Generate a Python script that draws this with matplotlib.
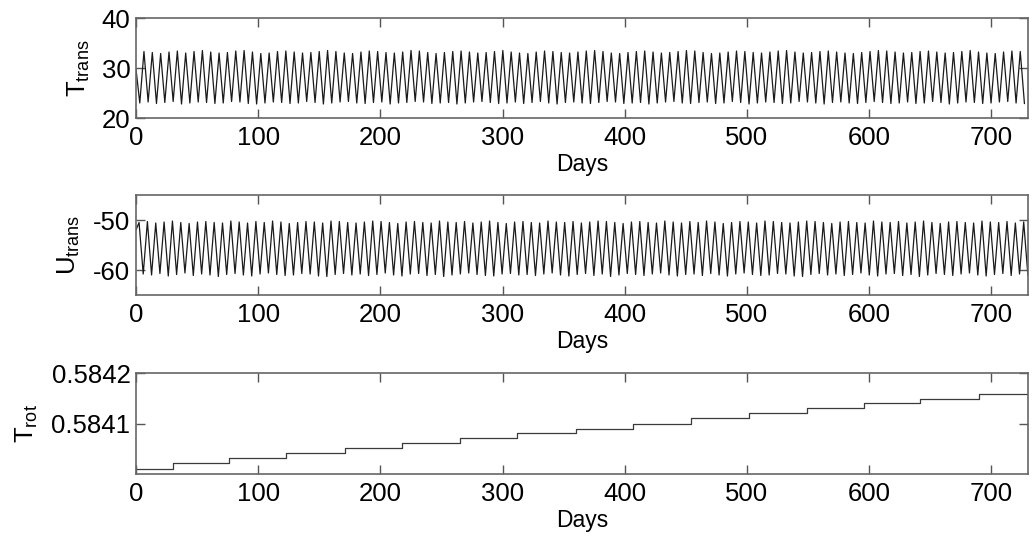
import numpy as np
import matplotlib
matplotlib.use("Agg")
import matplotlib.pyplot as plt

plt.rcParams["font.family"] = ["Liberation Sans", "DejaVu Sans"]
plt.rcParams["mathtext.fontset"] = "custom"
plt.rcParams["mathtext.rm"] = "Liberation Sans"
plt.rcParams["axes.unicode_minus"] = False

# ---- data ----
days_max = 730
period_days = 6.83  # one full oscillation, read from the peak spacing

# T_trans: start value, then alternating trough / peak values
t_start = 29.8
t_first_trough_day = 3.1
t_troughs = [
    23.0, 23.2, 22.9, 23.1, 23.3, 22.8, 23.0, 23.2, 23.1, 22.9, 23.0, 23.3,
    23.2, 22.9, 22.8, 23.0, 23.2, 23.1, 22.9, 23.0, 23.3, 23.1, 22.8, 23.0,
    23.2, 23.3, 23.0, 22.9, 23.1, 23.2, 22.8, 23.0, 23.1, 23.3, 23.2, 22.9,
    23.0, 23.1, 22.8, 23.0, 23.2, 23.3, 23.1, 22.9, 23.0, 23.2, 22.9, 23.1,
    23.3, 23.0, 22.8, 23.1, 23.2, 23.0, 22.9, 23.1, 23.3, 23.2, 22.9, 23.0,
    23.1, 22.8, 23.0, 23.2, 23.3, 23.0, 22.9, 23.1, 23.2, 22.9, 23.0, 23.3,
    23.1, 22.8, 23.0, 23.2, 23.1, 22.9, 23.0, 23.3, 23.2, 23.0, 22.8, 23.1,
    23.2, 23.0, 22.9, 23.1, 23.3, 23.1, 22.9, 23.0, 23.2, 22.9, 23.0, 23.3,
    23.1, 22.8, 23.0, 23.2, 23.1, 22.9, 23.0, 23.2, 23.3, 23.0, 22.9,
]
t_peaks = [
    33.3, 33.1, 32.9, 33.2, 33.4, 33.0, 33.3, 33.5, 33.2, 33.0, 33.1, 33.4,
    33.5, 33.2, 32.9, 33.0, 33.3, 33.4, 33.2, 33.0, 33.1, 33.3, 33.5, 33.3,
    33.0, 32.9, 33.2, 33.4, 33.3, 33.1, 33.0, 33.2, 33.5, 33.4, 33.1, 32.9,
    33.1, 33.3, 33.4, 33.2, 33.0, 33.1, 33.3, 33.5, 33.2, 33.0, 32.9, 33.2,
    33.4, 33.3, 33.1, 33.0, 33.2, 33.4, 33.5, 33.3, 33.0, 32.9, 33.1, 33.3,
    33.4, 33.2, 33.0, 33.1, 33.3, 33.5, 33.4, 33.1, 32.9, 33.0, 33.2, 33.4,
    33.3, 33.1, 33.0, 33.2, 33.4, 33.5, 33.2, 33.0, 33.1, 33.3, 33.4, 33.2,
    33.0, 32.9, 33.1, 33.3, 33.5, 33.4, 33.2, 33.0, 33.1, 33.3, 33.4, 33.2,
    33.0, 33.1, 33.3, 33.5, 33.2, 33.0, 32.9, 33.2, 33.4, 33.3,
]

# U_trans: start value, then alternating peak / trough values
u_start = -52.0
u_first_peak_day = 2.5
u_peaks = [
    -50.5, -50.3, -50.6, -50.4, -50.2, -50.5, -50.7, -50.4, -50.3, -50.5, -50.6, -50.2,
    -50.4, -50.6, -50.3, -50.5, -50.2, -50.4, -50.7, -50.5, -50.3, -50.4, -50.6, -50.2,
    -50.3, -50.5, -50.6, -50.4, -50.2, -50.3, -50.5, -50.7, -50.4, -50.3, -50.5, -50.6,
    -50.2, -50.4, -50.5, -50.3, -50.6, -50.4, -50.2, -50.5, -50.7, -50.4, -50.3, -50.5,
    -50.6, -50.2, -50.4, -50.5, -50.3, -50.6, -50.4, -50.2, -50.3, -50.5, -50.7, -50.4,
    -50.3, -50.5, -50.6, -50.2, -50.4, -50.6, -50.3, -50.5, -50.2, -50.4, -50.7, -50.5,
    -50.3, -50.4, -50.6, -50.2, -50.3, -50.5, -50.6, -50.4, -50.2, -50.3, -50.5, -50.7,
    -50.4, -50.3, -50.5, -50.6, -50.2, -50.4, -50.5, -50.3, -50.6, -50.4, -50.2, -50.5,
    -50.7, -50.4, -50.3, -50.5, -50.6, -50.2, -50.4, -50.5, -50.3, -50.6, -50.4,
]
u_troughs = [
    -60.8, -61.0, -60.7, -61.2, -60.9, -60.6, -61.1, -60.8, -61.0, -61.3, -60.9, -60.7,
    -61.0, -61.2, -60.8, -60.6, -60.9, -61.1, -61.0, -60.7, -60.8, -61.2, -61.3, -60.9,
    -60.7, -61.0, -60.8, -61.1, -60.9, -60.6, -61.0, -61.2, -60.8, -60.7, -61.1, -60.9,
    -61.3, -61.0, -60.8, -60.6, -60.9, -61.1, -61.2, -60.8, -60.7, -61.0, -60.9, -61.1,
    -60.8, -60.6, -61.0, -61.2, -60.9, -60.7, -61.1, -60.8, -61.3, -61.0, -60.7, -60.9,
    -61.1, -60.8, -60.6, -61.0, -61.2, -60.9, -60.8, -61.1, -60.7, -61.0, -61.2, -60.8,
    -60.6, -60.9, -61.1, -61.0, -60.7, -60.8, -61.2, -61.3, -60.9, -60.7, -61.0, -60.8,
    -61.1, -60.9, -60.6, -61.0, -61.2, -60.8, -60.7, -61.1, -60.9, -61.3, -61.0, -60.7,
    -60.9, -61.1, -60.8, -60.6, -61.0, -61.2, -60.9, -60.7, -61.1, -60.8, -61.0,
]

# T_rot: step changes (day of step) and level held after each step
rot_step_days = [0, 30, 76, 123, 171, 218, 265, 312, 360, 407, 454, 502, 549, 596, 642, 690, 730]
rot_levels = [
    0.584010, 0.584021, 0.584031, 0.584042, 0.584052, 0.584062, 0.584071, 0.584081,
    0.584090, 0.584100, 0.584110, 0.584120, 0.584130, 0.584140, 0.584149, 0.584159,
    0.584159,
]


def alternate(first, second):
    out = []
    for i in range(len(first)):
        out.append(first[i])
        if i < len(second):
            out.append(second[i])
    return out


t_ext = alternate(t_troughs, t_peaks)
t_days = np.concatenate([[0], t_first_trough_day + period_days / 2 * np.arange(len(t_ext))])
t_vals = np.concatenate([[t_start], t_ext])

u_ext = alternate(u_peaks, u_troughs)
u_days = np.concatenate([[0], u_first_peak_day + period_days / 2 * np.arange(len(u_ext))])
u_vals = np.concatenate([[u_start], u_ext])

W, H = 1032, 540
fig = plt.figure(figsize=(W / 100, H / 100), dpi=100)

left = 136 / W
width = (1028 - 136) / W
ax1 = fig.add_axes([left, 1 - 118 / H, width, 100 / H])
ax2 = fig.add_axes([left, 1 - 295 / H, width, 100 / H])
ax3 = fig.add_axes([left, 1 - 474 / H, width, 101 / H])

line_col = "#1a1a1a"
ax1.plot(t_days, t_vals, color=line_col, lw=0.9)
ax2.plot(u_days, u_vals, color=line_col, lw=0.9)
ax3.plot(rot_step_days, rot_levels, color="#3a3a3a", lw=0.9, drawstyle="steps-post")

ax1.set_ylim(20, 40)
ax1.set_yticks([20, 30, 40], ["20", "30", "40"])
ax1.set_ylabel(r"$\mathregular{T_{trans}}$", fontsize=18.5, labelpad=7)

ax2.set_ylim(-65, -45)
ax2.set_yticks([-60, -50], ["-60", "-50"])
ax2.set_ylabel(r"$\mathregular{U_{trans}}$", fontsize=18.5, labelpad=8)

ax3.set_ylim(0.5840, 0.5842)
ax3.set_yticks([0.5841, 0.5842], ["0.5841", "0.5842"])
ax3.set_ylabel(r"$\mathregular{T_{rot}}$", fontsize=18.5, labelpad=8)

for ax in (ax1, ax2, ax3):
    ax.set_xlim(0, days_max)
    ax.set_xticks(range(0, 701, 100))
    ax.set_xlabel("Days", fontsize=16.5, labelpad=2)
    ax.tick_params(direction="in", top=True, right=True, length=6.5, width=1,
                   color="#555555", labelsize=18.5, pad=4)
    ax.tick_params(axis="x", pad=6)
    for s in ax.spines.values():
        s.set_color("#666666")
        s.set_linewidth(1.2)

fig.savefig("out.png", dpi=100)
